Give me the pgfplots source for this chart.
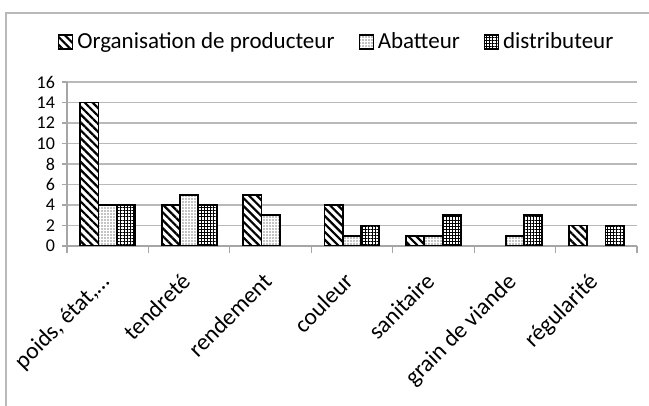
\documentclass[border=0pt]{standalone}
\usepackage{fontspec}
\setmainfont{Carlito}
\usepackage{pgfplots}
\pgfplotsset{compat=1.18}
\usetikzlibrary{patterns.meta}
\begin{document}
\begin{tikzpicture}
\useasboundingbox (-33.5pt,-80pt) rectangle (291pt,123pt);
\draw[gray!55, line width=0.6pt] (-30.5pt,-80pt) -- (-30.5pt,116.5pt) -- (291pt,116.5pt);
\begin{axis}[
  scale only axis, width=285pt, height=82pt,
  at={(0,0)}, anchor=south west,
  ymin=0, ymax=16, ytick={0,2,...,16},
  xmin=-0.5, xmax=6.5,
  axis lines*=left,
  axis line style={draw=gray!70, line width=0.7pt},
  ymajorgrids, grid style={gray!55, line width=0.75pt},
  tick align=outside,
  major tick length=2.5pt,
  ytick style={draw=gray!70, line width=0.6pt},
  xtick={0,...,6},
  xticklabels={{poids, état,…},tendreté,rendement,couleur,sanitaire,grain de viande,régularité},
  xtick style={draw=none},
  extra x ticks={-0.5,0.5,...,6.5},
  extra x tick labels={},
  extra x tick style={grid=none, major tick length=3.5pt, xtick style={draw=gray!70, line width=0.6pt}},
  xticklabel style={font=\fontsize{11.75}{13}\selectfont, inner sep=0pt, xshift=-4.5pt, yshift=-10pt, rotate=45, anchor=north east},
  yticklabel style={font=\fontsize{9}{10}\selectfont},
  /pgf/number format/assume math mode=true,
  ybar=0pt, bar width=0.225,
  legend style={at={(0.475,1.244)}, anchor=center, draw=none, fill=none,
    legend columns=3, font=\fontsize{11.5}{13}\selectfont,
    /tikz/every even column/.append style={column sep=10pt}},
  legend image code/.code={\draw[#1,line width=0.6pt] (0pt,-3.5pt) rectangle (7pt,3.5pt);},
]
\addplot[draw=black, line width=0.9pt, fill=white,
  postaction={pattern={Lines[angle=-45,distance=2.8pt,line width=1.1pt]}}]
  coordinates {(0,14) (1,4) (2,5) (3,4) (4,1) (6,2)};
\addplot[draw=black, line width=0.9pt, fill=white,
  postaction={pattern={Dots[distance=1.5pt,radius=0.35pt]}}]
  coordinates {(0,4) (1,5) (2,3) (3,1) (4,1) (5,1)};
\addplot[draw=black, line width=0.9pt, fill=white,
  postaction={pattern={Lines[angle=0,distance=1.55pt,line width=0.45pt]}},
  postaction={pattern={Lines[angle=90,distance=1.55pt,line width=0.45pt]}}]
  coordinates {(0,4) (1,4) (3,2) (4,3) (5,3) (6,2)};
\legend{Organisation de producteur, Abatteur, distributeur}
\end{axis}
\end{tikzpicture}
\end{document}
